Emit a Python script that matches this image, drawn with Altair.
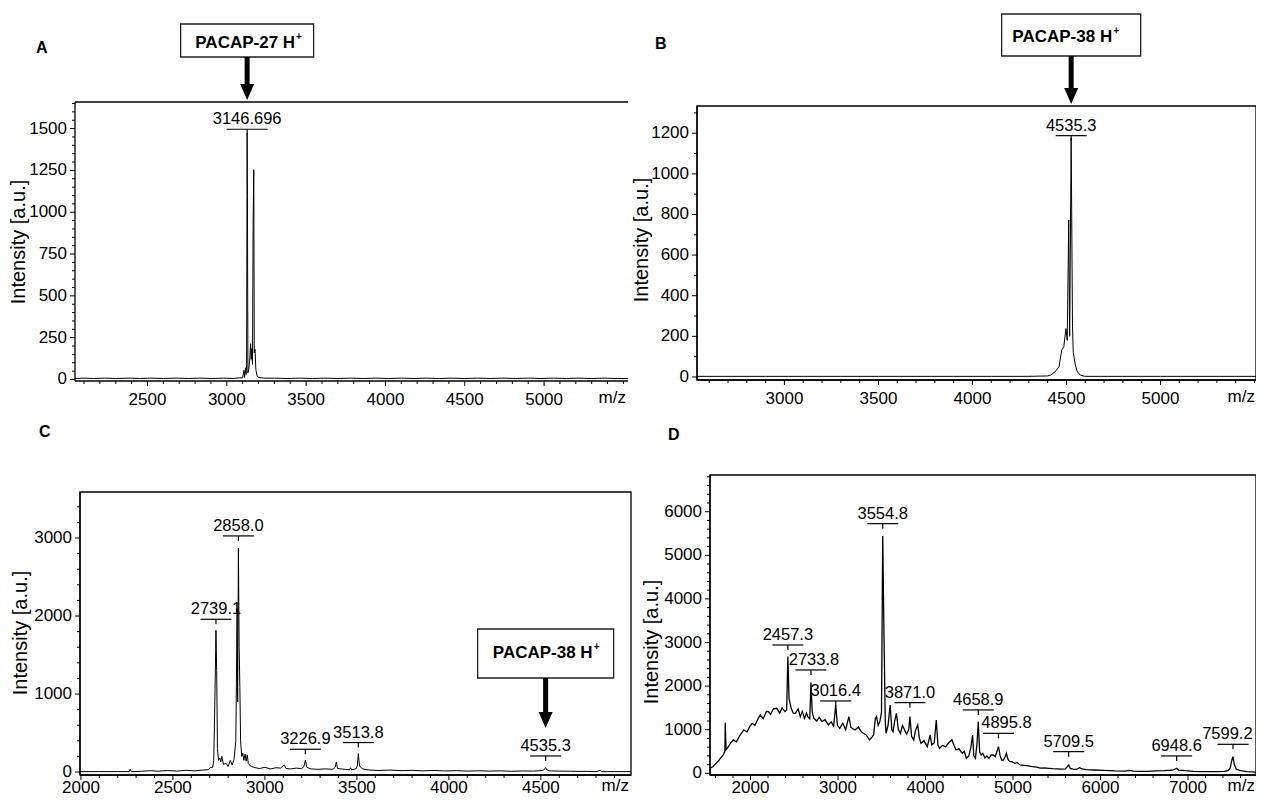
import altair as alt
import pandas as pd

# ---------------- data ----------------
# Panel A  (PACAP-27)
A_mz = [2043, 2100, 2160, 2230, 2300, 2390, 2450, 2520, 2600, 2680,
        2760, 2830, 2900, 2980, 3040, 3080, 3100, 3108, 3112, 3118,
        3122, 3125, 3128, 3130, 3133, 3138, 3144, 3150, 3154, 3158,
        3162, 3166, 3170, 3173, 3178, 3183, 3190, 3200, 3240, 3300,
        3380, 3460, 3540, 3620, 3700, 3780, 3860, 3940, 4020, 4100,
        4180, 4260, 4340, 4420, 4500, 4580, 4660, 4740, 4820, 4900,
        4980, 5060, 5140, 5220, 5300, 5380, 5460, 5529]
A_int = [6, 8, 6, 8, 6, 8, 6, 8, 6, 8,
         6, 8, 6, 8, 6, 10, 10, 55, 12, 70,
         30, 90, 1472, 1100, 40, 60, 110, 214, 120, 184,
         90, 950, 1254, 160, 180, 60, 25, 12, 8, 8,
         6, 8, 6, 8, 6, 8, 6, 8, 6, 8,
         6, 8, 6, 8, 6, 8, 6, 8, 6, 8,
         6, 8, 6, 8, 6, 8, 6, 6]
A_lab = ["3146.696"]
A_lab_mz = [3128]
A_lab_y = [1496]

# Panel B  (PACAP-38)
B_mz = [2535, 2700, 2900, 3100, 3300, 3500, 3700, 3900, 4100, 4300,
        4400, 4417, 4439, 4460, 4475, 4486, 4497, 4504, 4512, 4517,
        4525, 4532, 4536, 4547, 4558, 4575, 4600, 4800, 5000, 5200,
        5400, 5508]
B_int = [3, 3, 3, 3, 3, 3, 3, 3, 3, 3,
         5, 10, 25, 49, 132, 150, 238, 180, 773, 200,
         1176, 250, 120, 60, 25, 8, 3, 3, 3, 3,
         3, 3]
B_lab = ["4535.3"]
B_lab_mz = [4525]
B_lab_y = [1188]

# Panel C
C_mz = [1995, 2100, 2200, 2262, 2268, 2274, 2330, 2380, 2420, 2470,
        2520, 2570, 2620, 2660, 2690, 2705, 2716, 2722, 2728, 2734,
        2738, 2742, 2748, 2755, 2760, 2766, 2775, 2790, 2800, 2812,
        2822, 2832, 2842, 2849, 2852, 2856, 2860, 2864, 2868, 2874,
        2880, 2886, 2892, 2898, 2904, 2910, 2920, 2940, 2970, 3000,
        3030, 3060, 3085, 3104, 3115, 3140, 3170, 3200, 3212, 3220,
        3228, 3250, 3290, 3330, 3370, 3382, 3388, 3395, 3430, 3460,
        3466, 3472, 3495, 3502, 3508, 3514, 3530, 3570, 3620, 3680,
        3740, 3800, 3860, 3920, 3980, 4040, 4100, 4160, 4220, 4280,
        4340, 4400, 4460, 4510, 4520, 4526, 4532, 4545, 4600, 4660,
        4746, 4800, 4823, 4830, 4900, 4990]
C_int = [5, 5, 5, 5, 35, 5, 10, 18, 10, 20,
         12, 22, 15, 25, 30, 60, 60, 150, 900, 1817,
         1300, 300, 150, 180, 130, 200, 100, 110, 70, 150,
         90, 160, 400, 2096, 900, 2869, 1600, 1087, 400, 200,
         240, 150, 230, 140, 220, 110, 80, 60, 45, 60,
         40, 55, 50, 90, 45, 40, 50, 45, 70, 150,
         60, 40, 35, 40, 35, 60, 129, 45, 35, 30,
         55, 30, 40, 80, 236, 80, 40, 25, 20, 25,
         18, 22, 15, 20, 14, 18, 12, 16, 12, 15,
         10, 14, 12, 20, 35, 56, 30, 15, 12, 10,
         8, 5, 20, 5, 5, 5]
C_lab = ["2739.1", "2858.0", "3226.9", "3513.8", "4535.3"]
C_lab_mz = [2734, 2856, 3220, 3508, 4526]
C_lab_y = [1958, 3027, 292, 378, 206]

# Panel D
D_mz = [1537, 1570, 1641, 1688, 1707, 1711, 1721, 1744, 1773, 1806,
        1838, 1876, 1923, 1961, 1994, 2018, 2051, 2088, 2112, 2145,
        2182, 2206, 2229, 2262, 2300, 2333, 2361, 2394, 2413, 2427,
        2441, 2465, 2489, 2512, 2545, 2569, 2592, 2616, 2640, 2654,
        2677, 2691, 2705, 2724, 2757, 2785, 2818, 2851, 2889, 2922,
        2950, 2974, 2993, 3021, 3054, 3087, 3125, 3148, 3195, 3233,
        3266, 3289, 3322, 3360, 3384, 3407, 3426, 3440, 3459, 3478,
        3497, 3511, 3525, 3540, 3549, 3572, 3596, 3615, 3629, 3648,
        3667, 3690, 3714, 3737, 3761, 3784, 3808, 3822, 3841, 3865,
        3888, 3911, 3930, 3949, 3982, 4020, 4053, 4072, 4100, 4123,
        4142, 4161, 4194, 4231, 4265, 4302, 4326, 4349, 4382, 4420,
        4443, 4467, 4495, 4519, 4538, 4552, 4571, 4589, 4603, 4618,
        4636, 4655, 4679, 4702, 4726, 4750, 4773, 4797, 4816, 4834,
        4853, 4872, 4891, 4910, 4924, 4943, 4962, 4985, 5023, 5047,
        5080, 5127, 5174, 5221, 5268, 5315, 5362, 5409, 5457, 5504,
        5551, 5598, 5636, 5655, 5692, 5730, 5763, 5786, 5833, 5928,
        6046, 6163, 6281, 6329, 6375, 6446, 6540, 6634, 6728, 6799,
        6836, 6870, 6893, 6964, 7058, 7152, 7246, 7341, 7411, 7458,
        7482, 7501, 7514, 7529, 7552, 7600, 7670, 7741, 7777]
D_int = [115, 150, 306, 420, 500, 1162, 540, 600, 700, 765,
         720, 860, 994, 950, 1080, 1147, 1100, 1260, 1338, 1250,
         1420, 1414, 1350, 1480, 1491, 1380, 1500, 1414, 1450, 2676,
         1700, 1491, 1380, 1376, 1480, 1300, 1420, 1260, 1380, 1300,
         1250, 2080, 1400, 1261, 1200, 1280, 1185, 1230, 1109, 1180,
         1080, 1567, 1100, 1032, 1150, 1000, 1300, 1050, 994, 1060,
         950, 917, 880, 765, 820, 879, 1250, 1300, 1100, 1185,
         1400, 5443, 3211, 1200, 917, 1100, 1567, 1000, 956, 1200,
         1376, 1000, 917, 1100, 994, 900, 1000, 1300, 850, 765,
         1000, 1109, 800, 688, 750, 612, 879, 650, 700, 1223,
         650, 573, 640, 612, 700, 765, 640, 535, 560, 459,
         500, 344, 400, 600, 879, 400, 344, 700, 1185, 500,
         420, 459, 350, 400, 344, 420, 420, 380, 500, 612,
         400, 300, 306, 380, 459, 320, 270, 268, 230, 250,
         191, 180, 170, 153, 140, 120, 125, 115, 105, 100,
         95, 100, 191, 110, 92, 95, 130, 100, 85, 76,
         65, 54, 50, 65, 48, 46, 45, 55, 60, 70,
         80, 115, 75, 60, 45, 40, 38, 40, 45, 60,
         120, 300, 382, 200, 92, 60, 40, 35, 23]
D_lab = ["2457.3", "2733.8", "3016.4", "3554.8", "3871.0",
         "4658.9", "4895.8", "5709.5", "6948.6", "7599.2"]
D_lab_mz = [2427, 2691, 2974, 3511, 3822, 4603, 4834, 5636, 6870, 7514]
D_lab_y = [2943, 2370, 1659, 5726, 1621, 1453, 917, 497, 398, 665]
# where each label's text sits (m/z), slightly off its bar in the original
D_txt_mz = [2427, 2725, 2974, 3511, 3822, 4603, 4925, 5636, 6870, 7450]

# tick label lists
A_xlabels = [2500, 3000, 3500, 4000, 4500, 5000]
B_xlabels = [3000, 3500, 4000, 4500, 5000]
C_xlabels = [2000, 2500, 3000, 3500, 4000, 4500]
D_xlabels = [2000, 3000, 4000, 5000, 6000, 7000]
A_ylabels = [0, 250, 500, 750, 1000, 1250, 1500]
B_ylabels = [0, 200, 400, 600, 800, 1000, 1200]
C_ylabels = [0, 1000, 2000, 3000]
D_ylabels = [0, 1000, 2000, 3000, 4000, 5000, 6000]

# ---------------- layout / style ----------------
W, H = 1248, 789
M = 8
FONT = "Liberation Sans, Arial, sans-serif"


def P(v):
    return v - M


def one():
    return alt.Chart(pd.DataFrame({"k": [0]}))


def panel(mz, inten, xdom, xpx, ydom, ypx, xlabels, xminor, ylabels, yminor,
          mz_right, title_xy, lab, lab_mz, lab_y, bar_w, sw=1.0, lab_gap=24,
          txt_mz=None):
    xs = alt.Scale(domain=xdom, range=[P(xpx[0]), P(xpx[1])], nice=False, zero=False)
    ys = alt.Scale(domain=ydom, range=[P(ypx[0]), P(ypx[1])], nice=False, zero=False)
    ax_x, ax_y = P(xpx[0]), P(ypx[0])
    if txt_mz is None:
        txt_mz = lab_mz

    line = alt.Chart(pd.DataFrame({"mz": mz, "i": inten})).mark_line(
        color="black", strokeWidth=sw).encode(
        x=alt.X("mz:Q", scale=xs, axis=None),
        y=alt.Y("i:Q", scale=ys, axis=None))

    # peak labels
    ldf = pd.DataFrame({"t": lab, "mz": lab_mz, "y": lab_y, "tx": txt_mz})
    base = alt.Chart(ldf).encode(
        x=alt.X("mz:Q", scale=xs, axis=None),
        y=alt.Y("y:Q", scale=ys, axis=None))
    bar = base.mark_tick(orient="horizontal", size=bar_w, thickness=1.2,
                         color="black", opacity=1)
    stem = base.mark_tick(orient="vertical", size=5, thickness=1.2, yOffset=2.5,
                          color="black", opacity=1)
    txt = alt.Chart(ldf).mark_text(dy=-5, baseline="alphabetic", align="center",
                                   font=FONT, fontSize=16.5, color="black").encode(
        x=alt.X("tx:Q", scale=xs, axis=None),
        y=alt.Y("y:Q", scale=ys, axis=None), text="t:N")

    # x axis (ticks + labels drawn through the x scale)
    xl = alt.Chart(pd.DataFrame({"v": xlabels}))
    xt = xl.mark_rule(color="black", strokeWidth=1).encode(
        x=alt.X("v:Q", scale=xs, axis=None), y=alt.value(ax_y), y2=alt.value(ax_y + 5))
    xtxt = xl.mark_text(baseline="alphabetic", align="center", font=FONT, fontSize=17,
                        color="black").encode(
        x=alt.X("v:Q", scale=xs, axis=None), y=alt.value(ax_y + lab_gap),
        text=alt.Text("v:Q", format="d"))
    xm = alt.Chart(pd.DataFrame({"v": xminor})).mark_rule(
        color="black", strokeWidth=1).encode(
        x=alt.X("v:Q", scale=xs, axis=None), y=alt.value(ax_y), y2=alt.value(ax_y + 3))
    mzt = one().mark_text(text="m/z", align="right", baseline="alphabetic", font=FONT,
                          fontSize=17, color="black").encode(
        x=alt.value(P(mz_right)), y=alt.value(ax_y + lab_gap - 2))

    # y axis
    yl = alt.Chart(pd.DataFrame({"v": ylabels}))
    yt = yl.mark_rule(color="black", strokeWidth=1).encode(
        y=alt.Y("v:Q", scale=ys, axis=None), x=alt.value(ax_x - 5), x2=alt.value(ax_x))
    ytxt = yl.mark_text(baseline="middle", align="right", font=FONT, fontSize=17,
                        color="black").encode(
        y=alt.Y("v:Q", scale=ys, axis=None), x=alt.value(ax_x - 8),
        text=alt.Text("v:Q", format="d"))
    ym = alt.Chart(pd.DataFrame({"v": yminor})).mark_rule(
        color="black", strokeWidth=1).encode(
        y=alt.Y("v:Q", scale=ys, axis=None), x=alt.value(ax_x - 3), x2=alt.value(ax_x))
    ttl = one().mark_text(text="Intensity [a.u.]", angle=270, align="center",
                          baseline="middle", font=FONT, fontSize=20, color="black").encode(
        x=alt.value(P(title_xy[0])), y=alt.value(P(title_xy[1])))

    # axis lines
    lft = one().mark_rule(color="black", strokeWidth=1.3).encode(
        x=alt.value(ax_x), y=alt.value(P(ypx[1])), y2=alt.value(ax_y))
    btm = one().mark_rule(color="black", strokeWidth=1.3).encode(
        x=alt.value(ax_x), x2=alt.value(P(xpx[1])), y=alt.value(ax_y))

    return xs, [line, bar, stem, txt, xt, xtxt, xm, mzt, yt, ytxt, ym, ttl, lft, btm]


def callout(xs, mz, text, y0, y1, w, base_y, dx_r, shaft_top, head_top, head_tip):
    b = alt.Chart(pd.DataFrame({"mz": [mz]}))
    X = alt.X("mz:Q", scale=xs, axis=None)
    rect = b.mark_rect(xOffset=-w / 2, x2Offset=w / 2, fill="white", stroke="#222",
                       strokeWidth=1.3).encode(x=X, x2="mz:Q",
                                               y=alt.value(P(y0)), y2=alt.value(P(y1)))
    t = b.mark_text(text=text, align="right", baseline="alphabetic", dx=dx_r,
                    font=FONT, fontSize=17, fontWeight="bold", color="black").encode(
        x=X, y=alt.value(P(base_y)))
    plus = b.mark_text(text="+", align="left", baseline="alphabetic", dx=dx_r + 1,
                       font=FONT, fontSize=10, fontWeight="bold", color="black").encode(
        x=X, y=alt.value(P(base_y - 8)))
    shaft = b.mark_rule(strokeWidth=5, color="black").encode(
        x=X, y=alt.value(P(shaft_top)), y2=alt.value(P(head_top + 1)))
    head = b.mark_point(shape="M-1,-1.15L1,-1.15L0,1.15Z", filled=True, size=196,
                        color="black", opacity=1).encode(
        x=X, y=alt.value(P((head_top + head_tip) / 2)))
    return [rect, t, plus, shaft, head]


def frame(x0, x1, y0, y1):
    return one().mark_rect(filled=False, stroke="black", strokeWidth=1.3).encode(
        x=alt.value(P(x0)), x2=alt.value(P(x1)), y=alt.value(P(y0)), y2=alt.value(P(y1)))


def hline(x0, x1, y):
    return one().mark_rule(color="black", strokeWidth=1.3).encode(
        x=alt.value(P(x0)), x2=alt.value(P(x1)), y=alt.value(P(y)))


def letter(s, x, y):
    return one().mark_text(text=s, align="left", baseline="alphabetic", font=FONT,
                           fontSize=16, fontWeight="bold", color="black").encode(
        x=alt.value(P(x)), y=alt.value(P(y)))


def minor(lo, hi, step, majors):
    return [v for v in range(lo, hi + 1, step) if v not in majors]


# ---- Panel A
xsA, layA = panel(A_mz, A_int, [2043, 5529], (75, 628), [-9, 1659], (381, 102),
                  A_xlabels, minor(2100, 5500, 100, A_xlabels),
                  A_ylabels, minor(50, 1650, 50, A_ylabels), 626, (19, 242),
                  A_lab, A_lab_mz, A_lab_y, 41)
layA += callout(xsA, 3128, "PACAP-27 H", 24, 57, 133, 48, 48, 57, 84, 100)
layA.append(hline(75, 628, 102))
panelA = alt.layer(*layA)

# ---- Panel B
xsB, layB = panel(B_mz, B_int, [2535, 5508], (697, 1256), [-15, 1334], (380, 106),
                  B_xlabels, minor(2600, 5500, 100, B_xlabels),
                  B_ylabels, minor(100, 1300, 100, B_ylabels), 1255, (642, 240),
                  B_lab, B_lab_mz, B_lab_y, 31)
layB += callout(xsB, 4525, "PACAP-38 H", 14, 56, 139, 42, 41, 56, 88, 104)
layB.append(frame(697, 1256, 106, 380))
panelB = alt.layer(*layB)

# ---- Panel C
xsC, layC = panel(C_mz, C_int, [1995, 4990], (80, 631), [-38, 3590], (775, 492),
                  C_xlabels, minor(2000, 4900, 100, C_xlabels),
                  C_ylabels, minor(200, 3400, 200, C_ylabels), 629, (21, 633),
                  C_lab, C_lab_mz, C_lab_y, 31, lab_gap=18)
layC += callout(xsC, 4526, "PACAP-38 H", 629, 678, 136, 658, 47, 678, 712, 728)
layC.append(frame(80, 631, 492, 775))
panelC = alt.layer(*layC)

# ---- Panel D
xsD, layD = panel(D_mz, D_int, [1537, 7777], (710, 1256), [-39, 6842], (775, 475),
                  D_xlabels, minor(1600, 7600, 200, D_xlabels),
                  D_ylabels, minor(200, 6800, 200, D_ylabels), 1255, (652, 642),
                  D_lab, D_lab_mz, D_lab_y, 31, sw=1.3, lab_gap=18, txt_mz=D_txt_mz)
layD.append(frame(710, 1256, 475, 775))
panelD = alt.layer(*layD)

letters = [letter("A", 36, 53), letter("B", 655, 49), letter("C", 39, 437), letter("D", 668, 440)]

chart = alt.layer(panelA, panelB, panelC, panelD, *letters).resolve_scale(
    x="independent", y="independent"
).properties(
    width=W, height=H, padding=0,
    autosize=alt.AutoSizeParams(type="none"),
    background="white",
).configure_view(stroke=None)

chart.save("out.html", embed_options={"renderer": "svg", "actions": False})
